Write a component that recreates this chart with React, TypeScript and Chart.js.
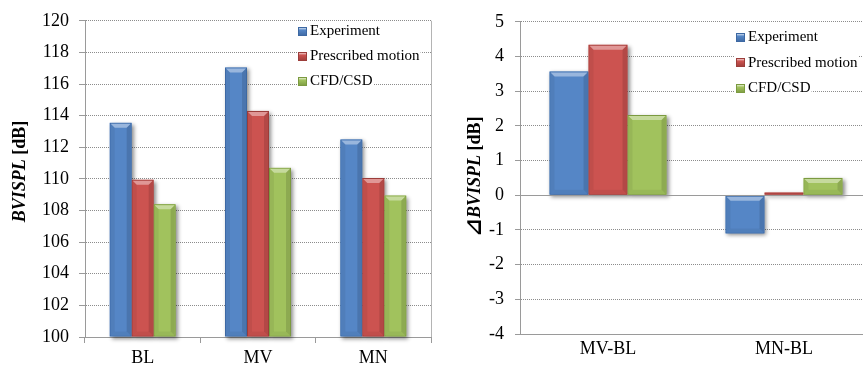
import React, { useEffect, useRef } from "react";
import { Chart, registerables } from "chart.js";

Chart.register(...registerables);

// ---------- data ----------
const SERIES_LABELS = ["Experiment", "Prescribed motion", "CFD/CSD"];

const ABS_CATEGORIES = ["BL", "MV", "MN"];
const ABS_EXPERIMENT = [113.55, 117.05, 112.5];
const ABS_PRESCRIBED = [109.95, 114.3, 110.05];
const ABS_CFD_CSD = [108.4, 110.7, 108.95];
const ABS_MIN = 100;
const ABS_MAX = 120;
const ABS_STEP = 2;

const DIFF_CATEGORIES = ["MV-BL", "MN-BL"];
const DIFF_EXPERIMENT = [3.57, -1.1];
const DIFF_PRESCRIBED = [4.34, 0.08];
const DIFF_CFD_CSD = [2.31, 0.5];
const DIFF_MIN = -4;
const DIFF_MAX = 5;
const DIFF_STEP = 1;

// ---------- styles ----------
const FILLS = ["#5586C6", "#CC5350", "#A1C25D"];
const EDGES = ["#3D68A2", "#9C3D3A", "#7B9A40"];
const SERIF = "'Liberation Serif', 'Times New Roman', 'DejaVu Serif', serif";
const AXIS_GRAY = "#9a9a9a";
const GRID_GRAY = "#8c8c8c";

Chart.defaults.font.family = SERIF;
Chart.defaults.color = "#000";

function barRect(el: any) {
  const p = el.getProps(["x", "y", "base", "width"], true);
  const l = p.x - p.width / 2;
  const r = p.x + p.width / 2;
  const t = Math.min(p.y, p.base);
  const b = Math.max(p.y, p.base);
  return { l, r, t, b };
}

const bevelPlugin = {
  id: "bevel",
  beforeDatasetsDraw(chart: any) {
    const ctx = chart.ctx;
    const ca = chart.chartArea;
    ctx.save();
    ctx.beginPath();
    ctx.rect(ca.left, ca.top - 2, ca.right - ca.left + 10, ca.bottom - ca.top + 12);
    ctx.clip();
    chart.data.datasets.forEach((ds: any, i: number) => {
      const meta = chart.getDatasetMeta(i);
      meta.data.forEach((el: any) => {
        const { l, r, t, b } = barRect(el);
        const bb = Math.min(b, ca.bottom);
        ctx.save();
        ctx.shadowColor = "rgba(0,0,0,0.45)";
        ctx.shadowBlur = 4;
        ctx.shadowOffsetX = 2;
        ctx.shadowOffsetY = 2;
        ctx.fillStyle = FILLS[i];
        ctx.fillRect(l, t, r - l, bb - t);
        ctx.restore();
      });
    });
    ctx.restore();
  },
  afterDatasetsDraw(chart: any) {
    const ctx = chart.ctx;
    const ca = chart.chartArea;
    ctx.save();
    ctx.beginPath();
    ctx.rect(ca.left, ca.top, ca.right - ca.left, ca.bottom - ca.top);
    ctx.clip();
    chart.data.datasets.forEach((ds: any, i: number) => {
      const meta = chart.getDatasetMeta(i);
      meta.data.forEach((el: any) => {
        let { l, r, t, b } = barRect(el);
        b = Math.min(b, ca.bottom);
        l += 1; r -= 1; t += 1; b -= 1;
        const h = Math.max(0, Math.min(4, (b - t) / 2, (r - l) / 4));
        // top highlight
        ctx.fillStyle = "rgba(255,255,255,0.4)";
        ctx.beginPath();
        ctx.moveTo(l, t); ctx.lineTo(r, t); ctx.lineTo(r - h, t + h); ctx.lineTo(l + h, t + h);
        ctx.closePath(); ctx.fill();
        // right shade
        ctx.fillStyle = "rgba(0,0,0,0.12)";
        ctx.beginPath();
        ctx.moveTo(r, t); ctx.lineTo(r, b); ctx.lineTo(r - h, b - h); ctx.lineTo(r - h, t + h);
        ctx.closePath(); ctx.fill();
        // left shade
        ctx.fillStyle = "rgba(0,0,0,0.06)";
        ctx.beginPath();
        ctx.moveTo(l, t); ctx.lineTo(l + h, t + h); ctx.lineTo(l + h, b - h); ctx.lineTo(l, b);
        ctx.closePath(); ctx.fill();
        // bottom shade
        ctx.fillStyle = "rgba(0,0,0,0.05)";
        ctx.beginPath();
        ctx.moveTo(l, b); ctx.lineTo(r, b); ctx.lineTo(r - h, b - h); ctx.lineTo(l + h, b - h);
        ctx.closePath(); ctx.fill();
      });
    });
    ctx.restore();
  },
};

const decorPlugin = {
  id: "decor",
  afterDraw(chart: any, _args: any, opts: any) {
    const ctx = chart.ctx;
    const ca = chart.chartArea;
    const yScale = chart.scales.y;
    ctx.save();
    // right frame
    if (opts.rightFrame) {
      ctx.strokeStyle = "#b4b4b4";
      ctx.lineWidth = 1;
      ctx.beginPath();
      ctx.moveTo(Math.round(ca.right) + 0.5, ca.top);
      ctx.lineTo(Math.round(ca.right) + 0.5, ca.bottom);
      ctx.stroke();
    }
    // zero line
    if (yScale.min < 0 && yScale.max > 0) {
      const y0 = Math.round(yScale.getPixelForValue(0)) + 0.5;
      ctx.strokeStyle = AXIS_GRAY;
      ctx.lineWidth = 1;
      ctx.beginPath();
      ctx.moveTo(ca.left, y0);
      ctx.lineTo(ca.right, y0);
      ctx.stroke();
    }
    // legend
    const lg = opts.legend;
    ctx.font = `15px ${SERIF}`;
    ctx.textBaseline = "middle";
    ctx.textAlign = "left";
    chart.data.datasets.forEach((ds: any, i: number) => {
      const cy = lg.y + i * lg.gap;
      const tw = ctx.measureText(ds.label).width;
      ctx.fillStyle = "#fff";
      ctx.fillRect(lg.x - 1, cy - 7, 12 + tw + 2, 14);
      const sx = lg.x, sy = Math.round(cy - 4.5);
      const g = ctx.createLinearGradient(0, sy, 0, sy + 9);
      g.addColorStop(0, "#ffffff");
      g.addColorStop(0.35, FILLS[i]);
      g.addColorStop(1, EDGES[i]);
      ctx.fillStyle = g;
      ctx.fillRect(sx, sy, 9, 9);
      ctx.strokeStyle = EDGES[i];
      ctx.lineWidth = 1;
      ctx.strokeRect(sx + 0.5, sy + 0.5, 8, 8);
      ctx.fillStyle = "#000";
      ctx.fillText(ds.label, sx + 12, cy + 0.5);
    });
    // axis title (rotated, mixed fonts)
    const at = opts.title;
    const parts = at.parts as { text: string; font: string }[];
    let total = 0;
    const widths = parts.map((p) => {
      ctx.font = p.font;
      const w = ctx.measureText(p.text).width;
      total += w;
      return w;
    });
    ctx.translate(at.x, at.y);
    ctx.rotate(-Math.PI / 2);
    ctx.fillStyle = "#000";
    ctx.textBaseline = "middle";
    let x = -total / 2;
    parts.forEach((p, k) => {
      ctx.font = p.font;
      ctx.fillText(p.text, x, 0);
      x += widths[k];
    });
    ctx.restore();
  },
};

function buildConfig(
  categories: string[],
  series: number[][],
  yMin: number,
  yMax: number,
  yStep: number,
  geo: any
) {
  const tickFont = { family: SERIF, size: 18, weight: "normal", style: "normal" };
  return {
    type: "bar",
    data: {
      labels: categories,
      datasets: series.map((d, i) => ({
        label: SERIES_LABELS[i],
        data: d,
        backgroundColor: FILLS[i],
        borderColor: EDGES[i],
        borderWidth: 1,
        borderSkipped: false,
        base: yMin > 0 ? yMin : undefined,
        categoryPercentage: geo.catPct,
        barPercentage: 1,
      })),
    },
    options: {
      responsive: false,
      animation: false,
      devicePixelRatio: 1,
      font: { family: SERIF },
      layout: { padding: { top: geo.top, right: geo.right, left: 0, bottom: 0 } },
      plugins: {
        legend: { display: false },
        tooltip: { enabled: false },
        decor: { legend: geo.legend, title: geo.title, rightFrame: geo.rightFrame },
      },
      scales: {
        x: {
          type: "category",
          offset: true,
          grid: {
            display: geo.xTicks,
            drawOnChartArea: false,
            drawTicks: geo.xTicks,
            tickLength: 6,
            color: AXIS_GRAY,
            offset: true,
          },
          border: { display: true, color: AXIS_GRAY, width: 1 },
          ticks: {
            color: "#000",
            font: tickFont,
            padding: 4,
            maxRotation: 0,
            autoSkip: false,
          },
          afterFit: (s: any) => {
            s.height = geo.xHeight;
          },
        },
        y: {
          min: yMin,
          max: yMax,
          ticks: {
            stepSize: yStep,
            color: "#000",
            font: tickFont,
            padding: geo.yPad,
          },
          grid: {
            color: GRID_GRAY,
            tickLength: geo.yTick,
            tickColor: AXIS_GRAY,
            drawTicks: true,
          },
          border: { display: true, color: AXIS_GRAY, width: 1, dash: [1, 1] },
          afterFit: (s: any) => {
            s.width = geo.yWidth;
          },
        },
      },
    },
    plugins: [bevelPlugin, decorPlugin],
  };
}

export default function App() {
  const leftRef = useRef<HTMLCanvasElement>(null);
  const rightRef = useRef<HTMLCanvasElement>(null);

  useEffect(() => {
    const bold = `bold 18px ${SERIF}`;
    const boldItalic = `italic bold 18px ${SERIF}`;
    const left = new Chart(
      leftRef.current as HTMLCanvasElement,
      buildConfig(
        ABS_CATEGORIES,
        [ABS_EXPERIMENT, ABS_PRESCRIBED, ABS_CFD_CSD],
        ABS_MIN,
        ABS_MAX,
        ABS_STEP,
        {
          catPct: 0.572,
          top: 16,
          right: 9,
          yWidth: 85,
          xHeight: 32,
          yPad: 10,
          yTick: 6,
          xTicks: true,
          rightFrame: true,
          legend: { x: 298, y: 31, gap: 25 },
          title: {
            x: 20,
            y: 171.5,
            parts: [
              { text: "BVISPL", font: boldItalic },
              { text: " [dB]", font: bold },
            ],
          },
        }
      ) as any
    );
    const right = new Chart(
      rightRef.current as HTMLCanvasElement,
      buildConfig(
        DIFF_CATEGORIES,
        [DIFF_EXPERIMENT, DIFF_PRESCRIBED, DIFF_CFD_CSD],
        DIFF_MIN,
        DIFF_MAX,
        DIFF_STEP,
        {
          catPct: 0.665,
          top: 19,
          right: 8,
          yWidth: 80,
          xHeight: 35,
          yPad: 11,
          yTick: 5,
          xTicks: false,
          rightFrame: false,
          legend: { x: 296, y: 37, gap: 25.5 },
          title: {
            x: 35,
            y: 176.5,
            parts: [
              { text: "\u22BF", font: `bold 22px ${SERIF}, 'DejaVu Sans'` },
              { text: "BVISPL", font: boldItalic },
              { text: " [dB]", font: bold },
            ],
          },
        }
      ) as any
    );
    return () => {
      left.destroy();
      right.destroy();
    };
  }, []);

  return (
    <div
      style={{
        position: "fixed",
        left: 0,
        top: 0,
        width: 863,
        height: 369,
        overflow: "hidden",
        background: "#fff",
      }}
    >
      <canvas
        ref={leftRef}
        width={440}
        height={369}
        style={{ position: "absolute", left: 0, top: 0, width: 440, height: 369 }}
      />
      <canvas
        ref={rightRef}
        width={440}
        height={369}
        style={{ position: "absolute", left: 440, top: 0, width: 440, height: 369 }}
      />
    </div>
  );
}
